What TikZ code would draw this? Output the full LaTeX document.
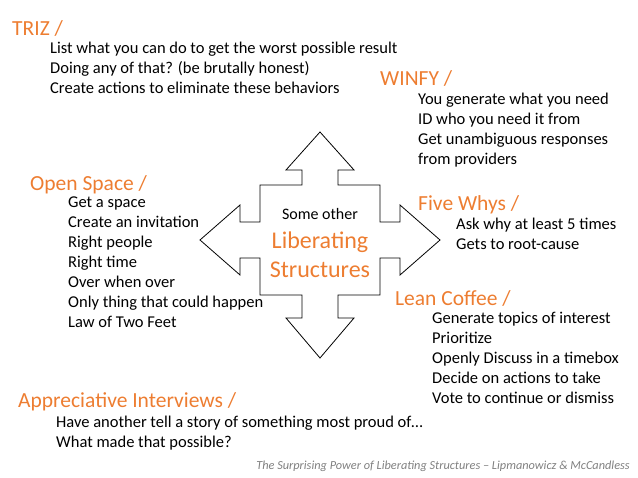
\documentclass[tikz,border=0pt]{standalone}
\usepackage{fontspec}
\setmainfont{Carlito}
\definecolor{slideorange}{RGB}{237,125,49}
\tikzset{
  heading/.style={anchor=west, inner sep=0pt, text=slideorange, font=\fontsize{21.5}{24}\selectfont},
  body/.style={anchor=north west, inner sep=0pt, align=left, font=\fontsize{16.5}{20}\selectfont},
}
\begin{document}
\begin{tikzpicture}[x=1pt, y=-1pt]
  \useasboundingbox (0,0) rectangle (638,478);

  % four-way arrow
  \draw[line width=0.8pt] (320,132) -- (354,170) -- (338,170) -- (338,185) -- (380,185) -- (380,222)
    -- (400,222) -- (400,205) -- (440,240) -- (400,275) -- (400,258) -- (380,258) -- (380,295)
    -- (338,295) -- (338,318) -- (354,318) -- (320,358) -- (286,318) -- (302,318) -- (302,295)
    -- (260,295) -- (260,258) -- (240,258) -- (240,275) -- (200,240) -- (240,205) -- (240,222)
    -- (260,222) -- (260,185) -- (302,185) -- (302,170) -- (286,170) -- cycle;

  \node[font=\fontsize{16}{18}\selectfont] at (320,214) (other) {Some other};
  \node[text=slideorange, font=\fontsize{24}{26}\selectfont] at (320,242) (lib) {Liberating};
  \node[text=slideorange, font=\fontsize{24}{26}\selectfont] at (320,270) (struct) {Structures};

  % TRIZ
  \node[heading] at (12,28) (triz) {TRIZ /};
  \node[body] at (50,42) (trizb) {List what you can do to get the worst possible result\\
    Doing any of that? (be brutally honest)\\Create actions to eliminate these behaviors};

  % WINFY
  \node[heading] at (380,78) (winfy) {WINFY /};
  \node[body] at (418,93) (winfyb) {You generate what you need\\ID who you need it from\\
    Get unambiguous responses\\from providers};

  % Open Space
  \node[heading] at (30,185) (open) {Open Space /};
  \node[body] at (68,197) (openb) {Get a space\\Create an invitation\\Right people\\Right time\\
    Over when over\\Only thing that could happen\\Law of Two Feet};

  % Five Whys
  \node[heading] at (418,205) (whys) {Five Whys /};
  \node[body] at (456,218) (whysb) {Ask why at least 5 times\\Gets to root-cause};

  % Lean Coffee
  \node[heading] at (395,298) (lean) {Lean Coffee /};
  \node[body] at (432,312) (leanb) {Generate topics of interest\\Prioritize\\
    Openly Discuss in a timebox\\Decide on actions to take\\Vote to continue or dismiss};

  % Appreciative Interviews
  \node[heading] at (18,402) (appr) {Appreciative Interviews /};
  \node[body] at (56,416) (apprb) {Have another tell a story of something most proud of\dots\\
    What made that possible?};

  \node[anchor=east, inner sep=0pt, text=gray, font=\fontsize{12.3}{14}\selectfont\itshape] at (630,466) (foot)
    {The Surprising Power of Liberating Structures -- Lipmanowicz \& McCandless};
\end{tikzpicture}
\end{document}
